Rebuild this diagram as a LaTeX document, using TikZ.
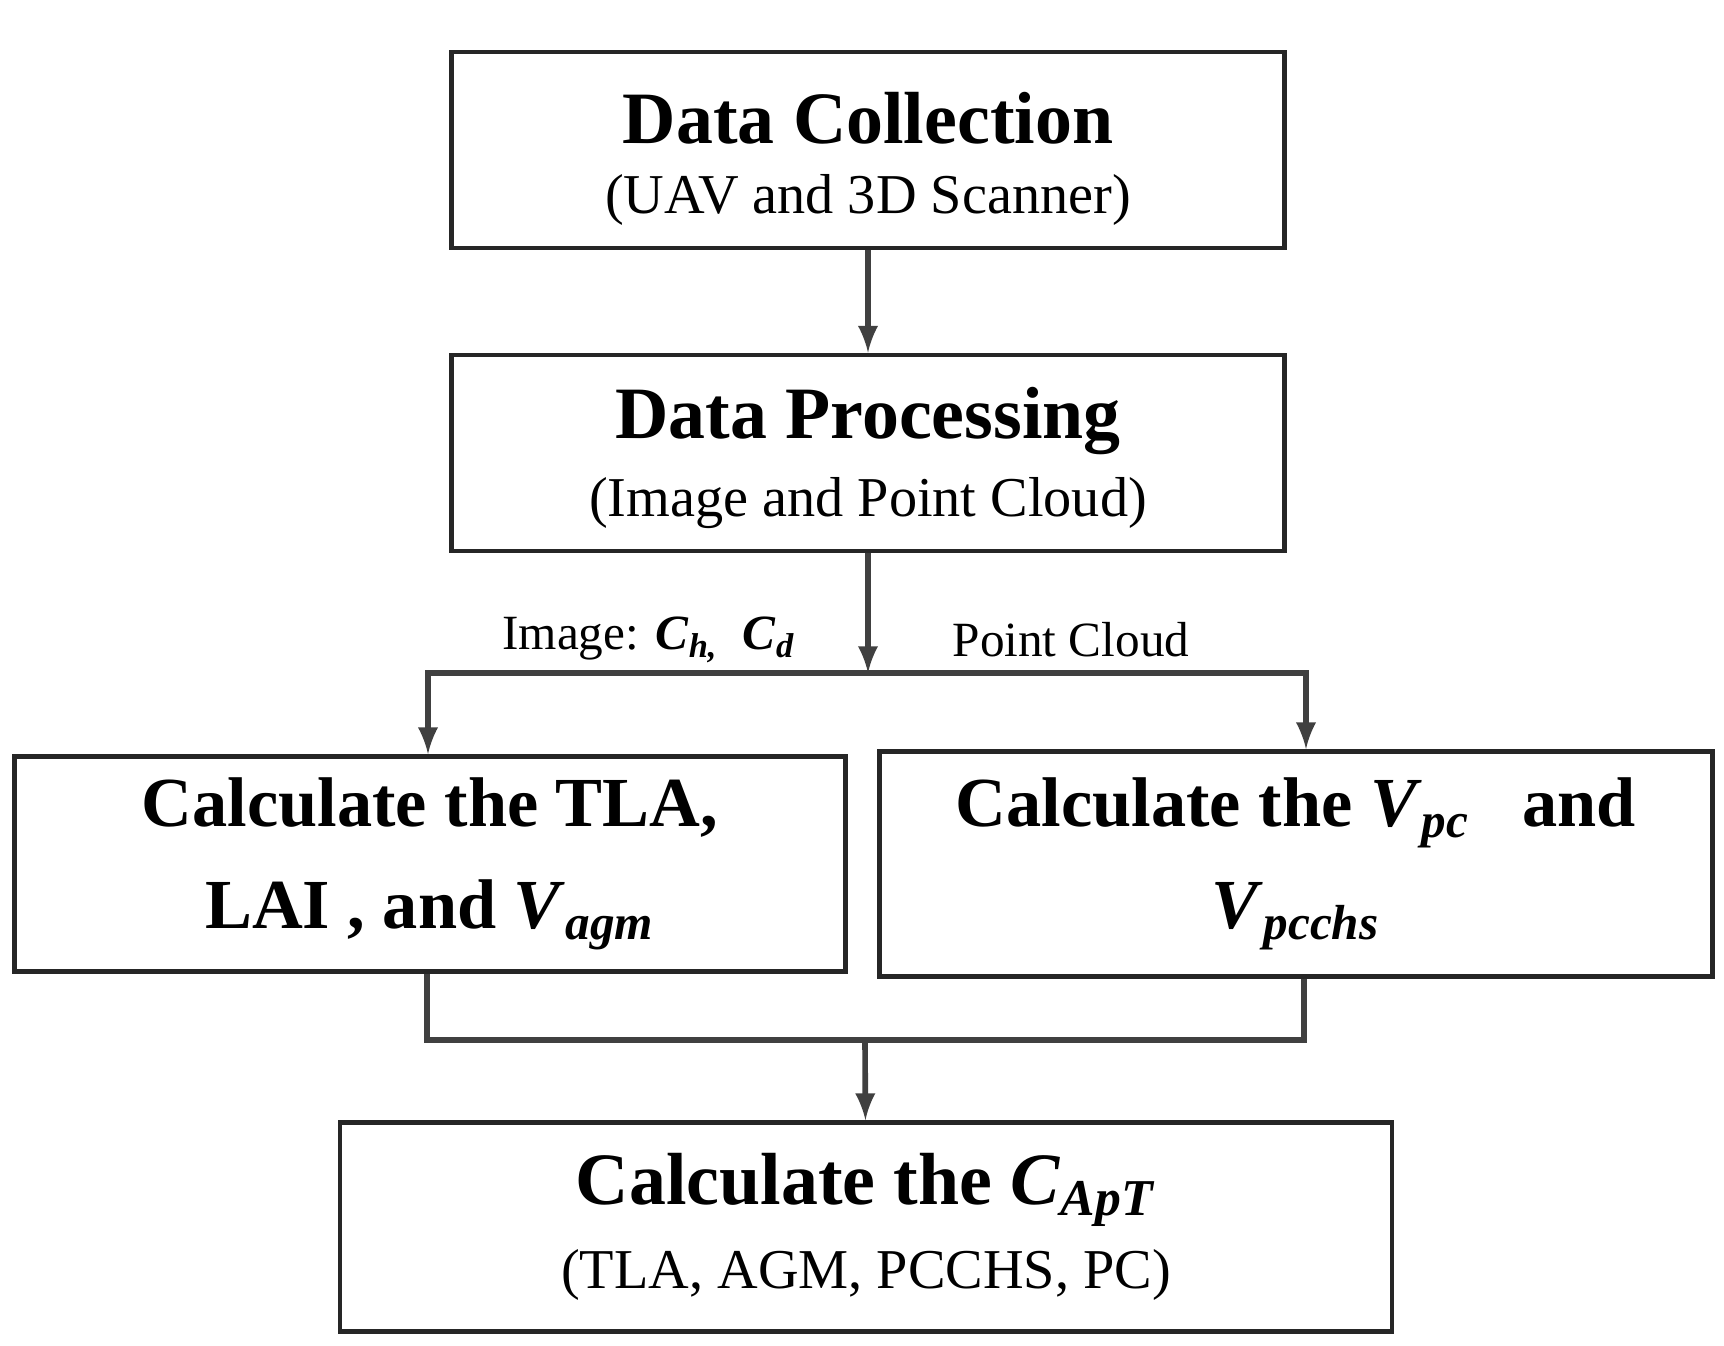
\documentclass[tikz,border=0pt]{standalone}
\usepackage{fontspec}
\setmainfont{Liberation Serif}
\usetikzlibrary{positioning,calc,arrows}
\newcommand{\qsym}[2]{\textit{#1}\textsubscript{\textit{#2}}}
\tikzset{
  box/.style={draw=black!85,line width=1.3pt,minimum width=#1,align=center,inner sep=0pt},
  flow/.style={draw=black!75,line width=1.6pt,-latex},
  link/.style={draw=black!75,line width=1.6pt},
  ttl/.style={font=\fontsize{21}{25}\selectfont\bfseries},
  sub/.style={font=\fontsize{16}{19}\selectfont}
}
\begin{document}
\begin{tikzpicture}[x=0.01cm,y=-0.01cm]
  \useasboundingbox (0,0) rectangle (1724,1346);
  \node[box=8.32cm,minimum height=1.96cm] (collect) at (868,150) {};
  \node[ttl] at (868,118) {Data Collection};
  \node[sub] at (868,200) {(UAV and 3D Scanner)};
  \node[box=8.32cm,minimum height=1.96cm] (process) at (868,453) {};
  \node[ttl] at (868,421) {Data Processing};
  \node[sub] at (868,503) {(Image and Point Cloud)};
  \node[box=8.30cm,minimum height=2.15cm,font=\fontsize{20}{29}\selectfont\bfseries] (tla) at (430,864)
    {Calculate the TLA,\\LAI , and \qsym{V}{agm}};
  \node[box=8.33cm,minimum height=2.25cm,font=\fontsize{20}{29}\selectfont\bfseries] (vpc) at (1296,864)
    {Calculate the \qsym{V}{pc} \ \ and\\\qsym{V}{pcchs}};
  \node[box=10.51cm,minimum height=2.09cm] (capt) at (866,1227) {};
  \node[ttl] at (866,1190) {Calculate the \qsym{C}{ApT}};
  \node[sub] at (866,1275) {(TLA, AGM, PCCHS, PC)};
  \node[font=\fontsize{14}{17}\selectfont] (imglbl) at (649,640) {Image: \textbf{\qsym{C}{h,}} \ \textbf{\qsym{C}{d}}};
  \node[font=\fontsize{14}{17}\selectfont] (pclbl) at (1071,640) {Point Cloud};
  \coordinate (split) at (868,673);
  \coordinate (merge) at (865,1040);
  \draw[flow] (collect) -- (process);
  \draw[flow] (process) -- (split);
  \draw[flow] (split) -| (tla.north -| 428,0);
  \draw[flow] (split) -| (vpc.north -| 1306,0);
  \draw[link] (tla.south -| 427,0) |- (merge);
  \draw[link] (vpc.south -| 1304,0) |- (merge);
  \draw[flow] (merge) -- (capt);
\end{tikzpicture}
\end{document}
